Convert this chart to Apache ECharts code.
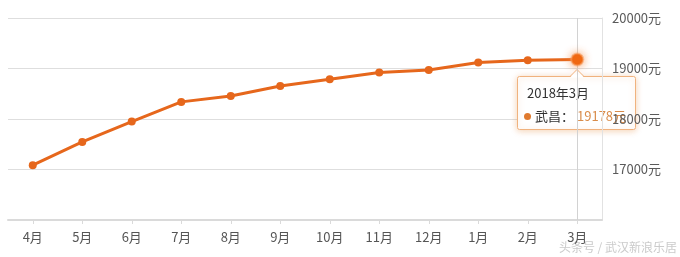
<!DOCTYPE html>
<html>
<head>
<meta charset="utf-8">
<script src="https://cdn.jsdelivr.net/npm/echarts@6/dist/echarts.min.js"></script>
<style>
html,body{margin:0;padding:0;background:#fff;}
#c{width:680px;height:257px;}
</style>
</head>
<body>
<div id="c"></div>
<script>
var categories = ['4月','5月','6月','7月','8月','9月','10月','11月','12月','1月','2月','3月'];
var tooltipTitles = ['2017年4月','2017年5月','2017年6月','2017年7月','2017年8月','2017年9月','2017年10月','2017年11月','2017年12月','2018年1月','2018年2月','2018年3月'];
var seriesName = '武昌';
var prices = [17085, 17547, 17950, 18339, 18457, 18655, 18788, 18921, 18972, 19119, 19162, 19178];
var yMin = 16000, yMax = 20000, yStep = 1000;
var unit = '元';
var watermark = '头条号 / 武汉新浪乐居';

var FONT = '"Noto Sans CJK SC", "Noto Sans", sans-serif';
var ORANGE = '#e6671c';
var last = prices.length - 1;

// series data built from prices; the selected (last) point gets the "hovered" look
var seriesData = prices.map(function (v, i) {
  if (i !== last) return v;
  return {
    value: v,
    symbolSize: 12,
    itemStyle: {color: '#f0640c', borderColor: 'rgba(246,160,100,0.55)', borderWidth: 2,
      shadowBlur: 9, shadowColor: 'rgba(245,140,70,0.8)'}
  };
});

var chart = echarts.init(document.getElementById('c'), null, {renderer: 'canvas'});
chart.setOption({
  animation: false,
  textStyle: {fontFamily: FONT},
  grid: {left: 8, right: 78, top: 18, bottom: 37, containLabel: false},
  xAxis: {
    type: 'category',
    data: categories,
    boundaryGap: true,
    axisLine: {show: true, lineStyle: {color: '#dadada', width: 2}},
    axisTick: {show: true, alignWithLabel: true, length: 4, lineStyle: {color: '#dadada'}},
    axisLabel: {color: '#555', fontSize: 13, margin: 11, fontFamily: FONT},
    splitLine: {show: false}
  },
  yAxis: {
    type: 'value',
    position: 'right',
    min: yMin,
    max: yMax,
    interval: yStep,
    axisLine: {show: true, onZero: false, lineStyle: {color: '#e2e2e2', width: 1}},
    axisTick: {show: false},
    axisLabel: {
      color: '#5a5a5a', fontSize: 13, margin: 10, fontFamily: FONT,
      showMinLabel: false,
      formatter: function (v) { return v + unit; }
    },
    splitLine: {show: true, lineStyle: {color: '#dedede', width: 1}}
  },
  series: [{
    name: seriesName,
    type: 'line',
    data: seriesData,
    symbol: 'circle',
    symbolSize: 8,
    lineStyle: {color: ORANGE, width: 3},
    itemStyle: {color: ORANGE},
    markLine: {
      silent: true,
      symbol: 'none',
      label: {show: false},
      lineStyle: {color: '#d2d2d2', width: 1, type: 'solid'},
      emphasis: {disabled: true},
      z: 1,
      data: [{xAxis: categories[last]}]
    }
  }]
});

// callout anchored to the last point via the chart's own scales
var pt = chart.convertToPixel({seriesIndex: 0}, [last, prices[last]]);
var bx = Math.round(pt[0]) - 60, by = Math.round(pt[1]) + 16;
var BORDER = '#f0b27e';
chart.setOption({
  graphic: [
    {
      type: 'group', id: 'tip', x: bx, y: by, zlevel: 1, z: 100,
      children: [
        {type: 'rect', shape: {x: 0.5, y: 0.5, width: 118, height: 53, r: 2},
         style: {fill: '#fff', stroke: BORDER, lineWidth: 1, shadowBlur: 6, shadowOffsetY: 1, shadowColor: 'rgba(225,130,50,0.35)'}},
        {type: 'polygon', shape: {points: [[53, 1.5], [60, -6], [67, 1.5]]}, style: {fill: '#fff', stroke: null}},
        {type: 'polyline', shape: {points: [[53, 0.5], [60, -6.5], [67, 0.5]]}, style: {fill: null, stroke: BORDER, lineWidth: 1}},
        {type: 'text', x: 10, y: 17, style: {text: tooltipTitles[last], fill: '#333', fontSize: 13, fontFamily: FONT, verticalAlign: 'middle'}},
        {type: 'circle', shape: {cx: 10.5, cy: 40.5, r: 3.5}, style: {fill: '#e07a2e'}},
        {type: 'text', x: 18, y: 40, style: {text: seriesName + '：', fill: '#333', fontSize: 13, fontFamily: FONT, verticalAlign: 'middle'}},
        {type: 'text', x: 60, y: 40, style: {text: prices[last] + unit, fill: '#d98c4a', fontSize: 13, fontFamily: FONT, verticalAlign: 'middle'}}
      ]
    },
    {
      type: 'text', id: 'wm', right: 3, bottom: 4,
      style: {text: watermark, fill: '#cbcbcb', fontSize: 12, fontFamily: FONT}
    }
  ]
});
</script>
</body>
</html>
